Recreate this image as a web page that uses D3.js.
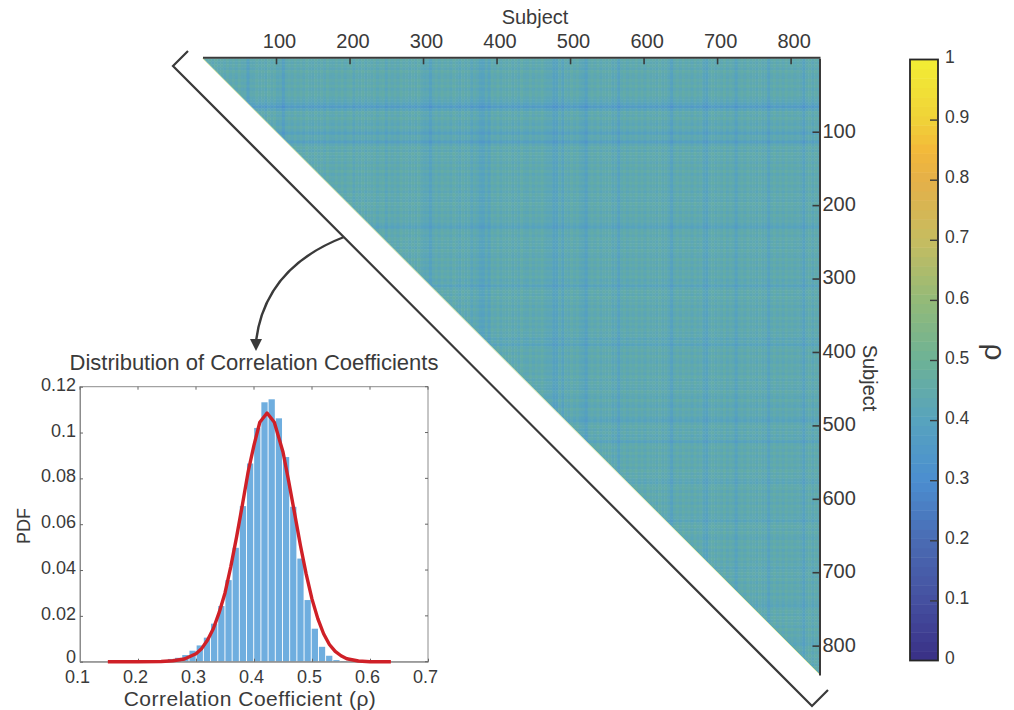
<!DOCTYPE html>
<html><head><meta charset="utf-8">
<script src="https://cdn.jsdelivr.net/npm/d3@7"></script>
<style>
html,body{margin:0;padding:0;background:#fff;overflow:hidden}
svg{display:block}
text{font-family:"Liberation Sans",Arial,sans-serif;fill:#3a3a3a}
</style></head><body><svg id="c" width="1014" height="710"></svg>
<script>
// ---- heat map: correlation profile along subjects, read in blocks of 4 subjects (deviation x 1000)
const subjectCount = 840;
const blockSize = 4;
const baseCorrelation = 0.425;
const columnProfile = [
14,-2,12,-6,16,0,10,-4,13,-3, 11,-5,15,-2,2,-34,1,-3,14,-1, 10,-6,16,0,12,-8,-2,-36,0,9, -3,15,-1,12,-5,17,2,-4,14,-2,
11,-6,16,1,-3,13,-1,15,-5,10, 17,-12,12,-2,16,-4,11,0,14,-6, 9,15,-14,13,-3,10,-5,16,1,12, -4,14,-2,17,0,-8,-3,-32,-1,11,
-5,15,0,12,-6,16,2,-10,14,-3, 10,-14,6,-4,-22,-26,2,-24,13,-2, 16,-5,11,0,15,-4,12,-6,17,1, -3,14,-5,11,0,16,-2,-6,-4,-28,
-26,6,-24,10,-4,15,-1,12,-6,-10, -32,3,13,-2,16,-5,11,0,14,-8, 4,-30,2,14,-4,11,0,17,-3,12, -6,15,1,10,-5,16,-2,9,-6,-30,
2,13,-4,16,0,11,-6,15,-2,12, -14,-26,3,14,-3,10,-1,17,-5,11, 2,-26,4,12,-4,16,0,10,-6,14, -2,6,-28,1,15,-3,12,-5,16,0,
11,-4,9,-2,-28,2,14,-6,12,0];
const rowProfile = [
14,-1,11,-4,15,2,-3,12,0,16, -5,10,13,-2,-6,-20,-52,-16,12,-2, 15,0,-8,10,-6,-30,2,-4,-36,-2, 13,-5,16,0,11,-4,14,-1,17,-6,
10,2,15,-3,12,-6,14,0,-4,16, 1,11,-5,13,-2,6,-8,-24,4,12, -3,15,0,10,-6,14,2,-4,16,-1, 12,-5,11,0,15,-8,6,-24,3,13,
-2,16,0,11,-6,14,1,-4,15,-3, 10,-5,13,-2,8,-14,2,-22,4,12, -4,15,1,-6,14,0,11,-3,16,-5, 12,2,-4,14,0,-6,15,-2,-10,13,
-3,6,-12,-22,3,12,-5,10,-8,4, -24,5,13,-2,15,-5,11,0,14,-4, 16,-1,10,-6,-12,8,13,-3,15,-1, 12,-6,14,0,11,-4,4,-16,6,13,
-2,15,0,-5,13,1,16,-6,11,-2, 14,-4,10,-10,2,13,-3,15,-5,11, 0,14,-6,12,-1,-4,-14,5,12,-3, 15,0,11,-6,16,-2,10,-4,-2,-12,
6,13,-3,15,-1,11,-5,14,0,12];
const subjectTicks = [100,200,300,400,500,600,700,800];

// ---- colour bar
const colorStops = [0,0.1,0.2,0.3,0.4,0.5,0.6,0.7,0.8,0.85,0.9,1];
const colorValues = ["#392F85","#4550A0","#4A6BB3","#4B8ED0","#57A3BE","#6DB296","#93BA78","#C6BC60","#E5B048","#F3B93A","#F0D238","#F2EE34"];
const colorbarTicks = [0,0.1,0.2,0.3,0.4,0.5,0.6,0.7,0.8,0.9,1];
const colorbarLevels = d3.range(0,1,1/64);

// ---- inset histogram
const binCenters = [.2445,.2569,.2693,.2817,.2941,.3065,.3189,.3313,.3437,.3561,.3685,.3809,.3933,.4057,.4181,.4305,.4429,.4553,.4677,.4801,.4925,.5049,.5173,.5297,.5421,.5545];
const binValues  = [.0004,.0012,.0017,.0029,.0048,.0071,.0105,.0166,.0243,.0356,.0497,.0679,.0865,.102,.1132,.1145,.1062,.0893,.0676,.045,.0269,.0144,.0065,.0026,.0007,.0003];
const binWidth = 0.0108;
const fitX = [.148,.20,.24,.26,.28,.30,.31,.32,.33,.34,.35,.36,.37,.38,.39,.40,.41,.4225,.435,.45,.46,.47,.48,.49,.50,.51,.52,.53,.54,.55,.56,.58,.60,.636];
const fitY = [0,0,.0001,.0004,.0012,.0035,.0058,.0095,.0145,.0215,.03,.0415,.0545,.0685,.083,.0945,.1045,.1085,.1045,.0915,.0785,.0647,.0508,.0382,.0273,.0188,.0122,.0075,.0045,.0026,.0013,.0003,0,0];
const insetXTicks = [0.1,0.2,0.3,0.4,0.5,0.6,0.7];
const insetYTicks = [0,0.02,0.04,0.06,0.08,0.1,0.12];

const ink = "#3a3a3a";
const fontFamily = '"Liberation Sans",Arial,sans-serif';
const svg = d3.select("#c");
const defs = svg.append("defs");

// ---- scales
const sx = d3.scaleLinear().domain([0,subjectCount]).range([202.5,820]);
const sy = d3.scaleLinear().domain([0,subjectCount]).range([58.3,675]);
const color = d3.scaleLinear().domain(colorStops).range(colorValues).clamp(true);

// ---- heat map
defs.append("clipPath").attr("id","tri").append("polygon")
  .attr("points",[[sx(0),sy(0)],[sx(subjectCount),sy(0)],[sx(subjectCount),sy(subjectCount)]].join(" "));
defs.append("filter").attr("id","soft").attr("x","-2%").attr("y","-2%").attr("width","104%").attr("height","104%")
  .append("feGaussianBlur").attr("stdDeviation",0.3);
const cells = [];
columnProfile.forEach((c,i)=>rowProfile.forEach((r,j)=>{ if(j<=i+1) cells.push({i,j,v:baseCorrelation+(c+r)/800}); }));
svg.append("g").attr("clip-path","url(#tri)").append("g").attr("filter","url(#soft)")
  .selectAll("rect").data(cells).join("rect")
  .attr("x",d=>sx(d.i*blockSize)).attr("y",d=>sy(d.j*blockSize))
  .attr("width",sx(blockSize)-sx(0)+0.5).attr("height",sy(blockSize)-sy(0)+0.5)
  .attr("fill",d=>color(d.v));
svg.append("line").attr("x1",sx(0)).attr("y1",sy(0)).attr("x2",sx(subjectCount)).attr("y2",sy(subjectCount))
  .attr("stroke","#e9efb0").attr("stroke-width",1);

// ---- heat map axes
const topAxis = d3.axisTop(sx).tickValues(subjectTicks).tickSizeInner(-7).tickSizeOuter(0).tickPadding(9);
const gTop = svg.append("g").attr("transform",`translate(0,${sy(0)-1})`).call(topAxis);
const rightAxis = d3.axisRight(sy).tickValues(subjectTicks).tickSizeInner(-7).tickSizeOuter(0).tickPadding(3);
const gRight = svg.append("g").attr("transform",`translate(${sx(subjectCount)-0.5},0)`).call(rightAxis);
[gTop,gRight].forEach(g=>{
  g.select(".domain").attr("stroke",ink).attr("stroke-width",2);
  g.selectAll(".tick line").attr("stroke",ink).attr("stroke-width",1.6);
  g.selectAll("text").attr("fill",ink).style("font-size","20px").style("font-family",fontFamily);
});
gTop.selectAll("text").attr("dx",3);
gRight.selectAll("text").attr("dy","0.27em");
svg.append("text").attr("x",535).attr("y",24).attr("text-anchor","middle").style("font-size","20px").text("Subject");
svg.append("text").attr("transform","translate(863,378) rotate(90)").attr("text-anchor","middle").style("font-size","20px").text("Subject");

// ---- cut bracket and arrow
svg.append("path").attr("d",d3.line()([[188,51],[173,66],[812,706],[828,690]]))
  .attr("fill","none").attr("stroke",ink).attr("stroke-width",2.2);
svg.append("path").attr("d","M344,237 C300,254 263,285 256,341")
  .attr("fill","none").attr("stroke",ink).attr("stroke-width",2.4);
svg.append("path").attr("d",d3.line()([[250,339],[262,339],[256,351]])).attr("fill",ink);

// ---- colour bar
const cy = d3.scaleLinear().domain([0,1]).range([660.5,59.5]);
const cbx = 910, cbw = 28;
svg.append("g").selectAll("rect").data(colorbarLevels).join("rect")
  .attr("x",cbx).attr("width",cbw)
  .attr("y",d=>cy(d+1/64)).attr("height",cy(0)-cy(1/64)+0.5)
  .attr("fill",d=>color(d+1/128));
svg.append("rect").attr("x",cbx).attr("y",cy(1)).attr("width",cbw).attr("height",cy(0)-cy(1))
  .attr("fill","none").attr("stroke","#262626").attr("stroke-width",1.8);
const cbAxis = d3.axisRight(cy).tickValues(colorbarTicks).tickFormat(d3.format("~g")).tickSizeInner(0).tickSizeOuter(0).tickPadding(7);
const gCb = svg.append("g").attr("transform",`translate(${cbx+cbw},0)`).call(cbAxis);
gCb.select(".domain").remove();
gCb.selectAll("text").attr("fill",ink).attr("dy","0.18em").style("font-size","17.5px").style("font-family",fontFamily);
gCb.selectAll(".tick").filter(d=>d>0&&d<1).select("line").attr("x2",-8).attr("stroke",ink).attr("stroke-width",1.4);
gCb.selectAll(".tick").filter(d=>d===0||d===1).select("line").remove();
svg.append("text").attr("transform","translate(985,352) rotate(90)").attr("text-anchor","middle").style("font-size","30px").text("ρ");

// ---- inset histogram
const hx = d3.scaleLinear().domain([0.1,0.7]).range([80,428]);
const hy = d3.scaleLinear().domain([0,0.12]).range([661.7,386.7]);
svg.append("g").selectAll("rect").data(binCenters).join("rect")
  .attr("x",d=>hx(d-binWidth/2)).attr("width",hx(binWidth)-hx(0))
  .attr("y",(d,i)=>hy(binValues[i])).attr("height",(d,i)=>hy(0)-hy(binValues[i]))
  .attr("fill","#6FAEDF");
svg.append("rect").attr("x",hx.range()[0]).attr("y",hy.range()[1])
  .attr("width",hx.range()[1]-hx.range()[0]).attr("height",hy.range()[0]-hy.range()[1])
  .attr("fill","none").attr("stroke","#8c8c8c").attr("stroke-width",1);
const hxAxis = d3.axisBottom(hx).tickValues(insetXTicks).tickFormat(d3.format("~g")).tickSizeInner(-3).tickSizeOuter(0).tickPadding(8.5);
const hyAxis = d3.axisLeft(hy).tickValues(insetYTicks).tickFormat(d3.format("~g")).tickSizeInner(-3).tickSizeOuter(0).tickPadding(4);
const gHx = svg.append("g").attr("transform",`translate(0,${hy(0)})`).call(hxAxis);
const gHy = svg.append("g").attr("transform",`translate(${hx(0.1)},0)`).call(hyAxis);
[gHx,gHy].forEach(g=>{
  g.select(".domain").attr("stroke","#8c8c8c");
  g.selectAll(".tick line").attr("stroke","#666");
  g.selectAll("text").attr("fill",ink).style("font-size","18px").style("font-family",fontFamily);
});
gHx.selectAll("text").attr("dx",-3);
gHy.selectAll("text").attr("dy",d=>d===0?"0.04em":"0.2em");
// mirrored ticks on the top and right edges
svg.append("g").selectAll("line").data(insetXTicks).join("line")
  .attr("x1",d=>hx(d)).attr("x2",d=>hx(d)).attr("y1",hy(0.12)).attr("y2",hy(0.12)+3).attr("stroke","#666");
svg.append("g").selectAll("line").data(insetYTicks).join("line")
  .attr("y1",d=>hy(d)).attr("y2",d=>hy(d)).attr("x1",hx(0.7)).attr("x2",hx(0.7)-3).attr("stroke","#666");
svg.append("path").attr("d",d3.line().x(d=>hx(d[0])).y(d=>hy(d[1]))(d3.zip(fitX,fitY)))
  .attr("fill","none").attr("stroke","#CF2027").attr("stroke-width",3.4).attr("stroke-linejoin","round");
svg.append("text").attr("x",254).attr("y",370).attr("text-anchor","middle").style("font-size","22px").text("Distribution of Correlation Coefficients");
svg.append("text").attr("x",250).attr("y",705.5).attr("text-anchor","middle").style("font-size","21px").style("letter-spacing","0.5px").text("Correlation Coefficient (ρ)");
svg.append("text").attr("transform","translate(30,526) rotate(-90)").attr("text-anchor","middle").style("font-size","18px").text("PDF");
</script></body></html>
